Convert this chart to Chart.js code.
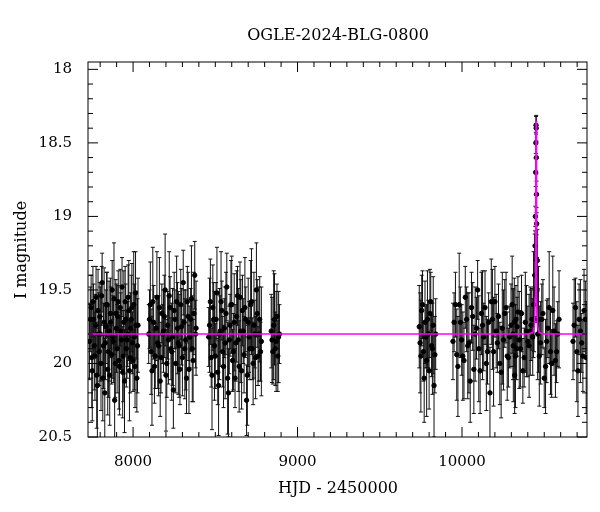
<!DOCTYPE html>
<html><head><meta charset="utf-8">
<script src="https://cdn.jsdelivr.net/npm/chart.js@4/dist/chart.umd.min.js"></script>
<style>body{margin:0;background:#fff}#w{width:600px;height:512px}</style>
</head><body><div id="w"><canvas id="c"></canvas></div>
<script>
const title = "OGLE-2024-BLG-0800";
const xLabel = "HJD - 2450000";
const yLabel = "I magnitude";
const xTicks = [8000, 9000, 10000];
const yTicks = [18, 18.5, 19, 19.5, 20, 20.5];
const hjd = [7735,7745,7752,7760,7768,7775,7783,7790,7798,7805,7812,7820,7828,7835,7842,7850,7858,7865,7873,7880,7888,7895,7903,7910,7918,7925,7933,7940,7948,7955,7963,7970,7978,7985,7993,8000,8008,8015,8023,8030,
8095,8105,8115,8125,8135,8145,8155,8165,8175,8185,8195,8205,8215,8225,8235,8245,8255,8265,8275,8285,8295,8305,8315,8325,8335,8345,8355,8365,8375,8383,
8460,8470,8480,8490,8500,8510,8520,8530,8540,8550,8560,8570,8580,8590,8600,8610,8620,8630,8640,8650,8660,8670,8680,8690,8700,8710,8720,8730,8740,8750,8760,8770,8780,
8840,8850,8860,8870,8880,8890,
9740,9750,9760,9770,9780,9790,9800,9810,9820,9830,9840,
9945,9960,9975,9990,10005,10020,10035,10050,10065,10080,10095,10110,10125,10140,10155,10170,10185,10200,10215,10230,10245,10260,10275,10290,10305,10320,10335,
10310,10325,10340,10355,10370,10385,10400,10415,10425,10435,10442,10446,10448,10450,10451,10452,10454,10456,10460,10470,10485,10500,10515,10530,10545,10560,10575,10590,
10675,10690,10705,10720,10735,10750,
7740,7749,7756,7764,7772,7779,7787,7794,7801,7809,7816,7824,7832,7839,7846,7854,7862,7869,7877,7884,7892,7899,7907,7914,7922,7929,7937,7944,7952,7959,7967,7974,7982,7989,7997,8004,8012,8019,8027,
8100,8110,8120,8130,8140,8150,8160,8170,8180,8190,8200,8210,8220,8230,8240,8250,8260,8270,8280,8290,8300,8310,8320,8330,8340,8350,8360,8370,8380,
8465,8475,8485,8495,8505,8515,8525,8535,8545,8555,8565,8575,8585,8595,8605,8615,8625,8635,8645,8655,8665,8675,8685,8695,8705,8715,8725,8735,8745,8755,8765,8775,
8845,8855,8865,8875,8885,
9745,9755,9765,9775,9785,9795,9805,9815,9825,9835,
9952,9968,9983,9998,10012,10028,10042,10058,10072,10088,10102,10118,10132,10148,10162,10178,10192,10208,10222,10238,10252,10268,10282,10298,10312,10328,
10318,10332,10348,10362,10378,10392,10408,10420,10430,10438,10444,10449,10453,10458,10465,10478,10492,10508,10522,10538,10552,10568,10582,
10682,10698,10712,10728,10742,10755];
const mag = [19.85,19.62,20.05,19.70,19.95,19.55,20.15,19.80,19.68,20.00,19.45,19.88,20.20,19.75,19.60,19.92,20.08,19.72,19.50,19.85,20.25,19.66,19.90,19.58,20.02,19.78,19.48,19.95,20.12,19.70,19.84,19.55,20.05,19.76,19.62,19.98,19.82,19.52,20.10,19.74,
19.80,19.60,20.05,19.72,19.95,19.55,19.88,20.12,19.66,19.78,19.50,20.00,19.84,19.62,19.92,20.18,19.70,19.58,19.86,20.04,19.75,19.45,19.90,20.10,19.68,19.82,19.56,19.98,19.40,19.76,
19.82,19.58,20.08,19.70,19.95,19.52,20.15,19.78,19.64,20.02,19.86,19.48,20.20,19.74,19.60,19.92,20.10,19.68,19.84,19.55,20.05,19.78,19.62,20.25,19.72,19.90,19.58,20.00,19.80,19.50,19.95,19.70,19.85,
19.78,19.92,19.70,19.85,19.95,19.80,
19.75,19.95,19.60,20.10,19.82,19.70,20.05,19.58,19.90,20.15,19.80,
19.85,19.60,20.02,19.72,19.95,19.55,19.88,20.12,19.68,19.80,19.50,20.05,19.74,19.62,19.92,20.20,19.70,19.58,19.86,20.00,19.76,19.66,19.95,19.82,19.60,20.08,19.75,
19.80,19.95,19.65,19.90,20.05,19.72,19.85,19.78,19.70,19.60,19.40,19.00,18.70,18.38,18.40,18.60,19.05,19.50,19.80,19.95,19.70,20.10,19.85,19.62,20.00,19.78,19.92,19.70,
19.85,19.62,20.05,19.78,19.95,19.70,
19.70,19.96,19.58,19.88,19.74,20.08,19.64,19.92,19.80,19.54,20.10,19.72,19.86,19.60,20.04,19.78,19.66,19.94,19.82,19.56,20.00,19.76,19.68,19.98,19.62,19.84,20.06,19.72,19.58,19.90,19.80,19.64,19.96,19.70,19.86,19.60,20.02,19.74,19.88,
19.70,19.92,19.58,20.02,19.76,19.86,19.62,19.96,19.80,19.68,20.08,19.74,19.54,19.90,19.82,19.64,20.00,19.76,19.88,19.60,19.96,19.72,19.84,19.58,20.04,19.70,19.90,19.66,19.80,
19.74,19.96,19.62,19.88,19.70,20.06,19.80,19.58,19.92,19.76,19.66,20.10,19.84,19.60,19.98,19.72,19.86,19.54,20.02,19.78,19.64,19.94,19.70,20.08,19.82,19.60,19.90,19.74,19.96,19.66,19.80,19.92,
19.84,19.74,19.90,19.68,19.82,
19.86,19.64,19.92,19.72,19.98,19.80,19.66,19.88,19.74,19.94,
19.72,19.94,19.60,19.84,19.98,19.70,19.86,19.62,20.04,19.76,19.90,19.66,19.82,20.00,19.72,19.58,19.92,19.78,19.68,20.06,19.84,19.62,19.96,19.74,19.88,19.70,
19.72,19.90,19.84,19.66,19.96,19.78,19.88,19.74,19.82,19.70,19.20,18.50,18.85,19.30,19.70,19.86,19.66,20.02,19.76,19.92,19.64,19.98,19.80,
19.74,19.92,19.70,19.86,19.64,19.96];
const errVals = [0.26,0.22,0.34,0.24,0.30,0.21,0.36,0.28,0.23,0.32,0.20,0.29,0.37,0.25,0.22,0.31,0.34,0.24,0.20,0.28,0.38,0.23,0.30,0.21,0.33,0.26,0.20,0.31,0.35,0.24];
const err = mag.map((m,i)=>errVals[i % errVals.length] * (m < 19.3 ? 0.3 : 1));
const modelX = [7726,10400,10430,10440,10445,10448,10450,10452,10455,10460,10470,10500,10760];
const modelY = [19.8,19.8,19.79,19.75,19.55,19.0,18.35,19.0,19.55,19.75,19.79,19.8,19.8];

const serif = "'DejaVu Serif', serif";
const errPlugin = {
  id:'err',
  beforeDatasetsDraw(ch){
    const c=ch.ctx,x=ch.scales.x,y=ch.scales.y,a=ch.chartArea;
    c.save();c.beginPath();c.rect(a.left,a.top,a.right-a.left,a.bottom-a.top);c.clip();
    c.strokeStyle='#111';c.lineWidth=1;
    for(let i=0;i<hjd.length;i++){
      const px=x.getPixelForValue(hjd[i]),p1=y.getPixelForValue(mag[i]-err[i]),p2=y.getPixelForValue(mag[i]+err[i]);
      c.beginPath();c.moveTo(px,p1);c.lineTo(px,p2);
      c.moveTo(px-2,p1);c.lineTo(px+2,p1);c.moveTo(px-2,p2);c.lineTo(px+2,p2);c.stroke();
    }
    c.restore();
  },
  afterDraw(ch){
    const c=ch.ctx,x=ch.scales.x,y=ch.scales.y,a=ch.chartArea;
    c.save();c.strokeStyle='#000';c.lineWidth=1;
    c.strokeRect(a.left,a.top,a.right-a.left,a.bottom-a.top);
    c.beginPath();
    for(let v=7800;v<=10700;v+=100){const px=x.getPixelForValue(v);const L=(v%1000===0)?10:5;
      c.moveTo(px,a.bottom);c.lineTo(px,a.bottom-L);c.moveTo(px,a.top);c.lineTo(px,a.top+L);}
    for(let v=18;v<=20.5001;v+=0.1){const py=y.getPixelForValue(v);const L=(Math.abs(v*2-Math.round(v*2))<1e-6)?10:5;
      c.moveTo(a.left,py);c.lineTo(a.left+L,py);c.moveTo(a.right,py);c.lineTo(a.right-L,py);}
    c.stroke();
    c.fillStyle='#000';c.font="16px "+serif;c.textAlign='center';c.textBaseline='middle';
    c.fillText(title,338,36);
    c.fillText(xLabel,338,489);
    c.translate(22,250);c.rotate(-Math.PI/2);c.fillText(yLabel,0,0);
    c.restore();
  }
};
new Chart(document.getElementById('c'),{
  data:{datasets:[
    {type:'line',data:modelX.map((v,i)=>({x:v,y:modelY[i]})),borderColor:'#ff00ff',borderWidth:1.5,pointRadius:0,order:0},
    {type:'scatter',data:hjd.map((v,i)=>({x:v,y:mag[i]})),backgroundColor:'#000',borderColor:'#000',pointRadius:2.2,order:1}
  ]},
  options:{responsive:true,maintainAspectRatio:false,animation:false,
    layout:{padding:{top:62,right:13,left:0,bottom:0}},
    plugins:{legend:{display:false},tooltip:{enabled:false}},
    scales:{
      x:{type:'linear',min:7726,max:10760,grid:{display:false},border:{display:false},
        afterBuildTicks:s=>{s.ticks=xTicks.map(v=>({value:v}));},
        afterFit:s=>{s.height=75;},
        ticks:{color:'#000',font:{family:serif,size:15},padding:8,maxRotation:0,callback:v=>String(v)}},
      y:{type:'linear',reverse:true,min:17.95,max:20.5,grid:{display:false},border:{display:false},
        afterBuildTicks:s=>{s.ticks=yTicks.map(v=>({value:v}));},
        afterFit:s=>{s.width=88;},
        ticks:{color:'#000',font:{family:serif,size:15},padding:8,callback:v=>String(v)}}
    }
  },
  plugins:[errPlugin]
});
</script></body></html>
